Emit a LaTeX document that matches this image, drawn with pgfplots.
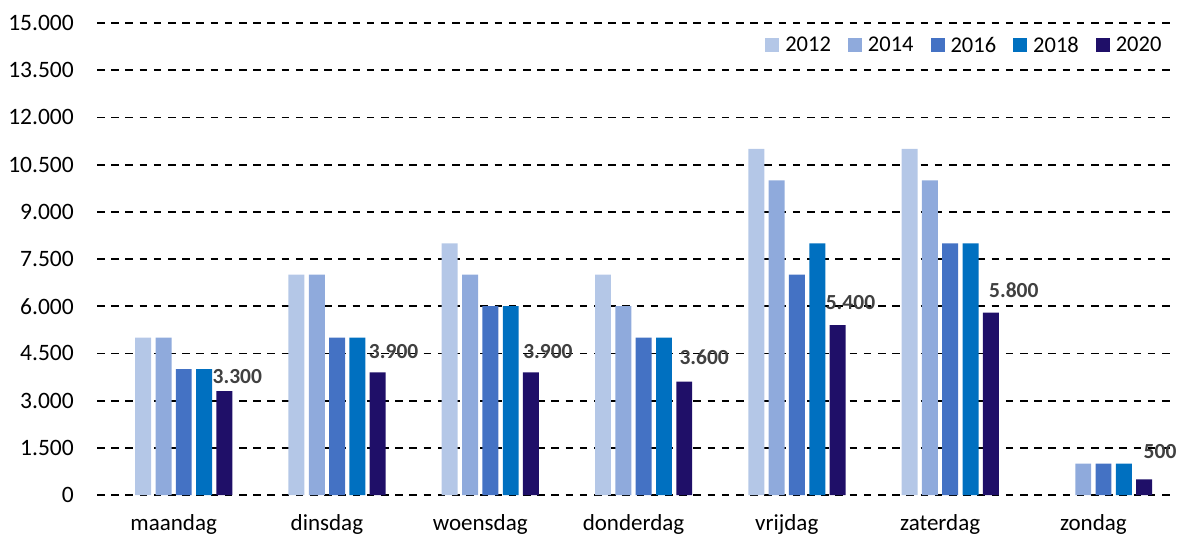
\documentclass[border=0pt]{standalone}
\usepackage{pgfplots}
\pgfplotsset{compat=1.18}
\usepackage{pgfplotstable}
\usepackage{fontspec}
\setmainfont{Carlito}
\definecolor{c2012}{HTML}{B4C7E7}
\definecolor{c2014}{HTML}{8FAADC}
\definecolor{c2016}{HTML}{4472C4}
\definecolor{c2018}{HTML}{0070C0}
\definecolor{c2020}{HTML}{1F0F68}
\definecolor{lab}{HTML}{404040}
\definecolor{axgrey}{HTML}{D9D9D9}

\pgfplotstableread{
x y
0 5000
1 7000
2 8000
3 7000
4 11000
5 11000
}\tA
\pgfplotstableread{
x y
0 5000
1 7000
2 7000
3 6000
4 10000
5 10000
6 1000
}\tB
\pgfplotstableread{
x y
0 4000
1 5000
2 6000
3 5000
4 7000
5 8000
6 1000
}\tC
\pgfplotstableread{
x y
0 4000
1 5000
2 6000
3 5000
4 8000
5 8000
6 1000
}\tD
\pgfplotstableread{
x y dx dy
0 3300 13 15
1 3900 16 21
2 3900 17 21
3 3600 20 24
4 5400 13 23
5 5800 23 22
6 500 16 28
}\tE

\begin{document}
\begin{tikzpicture}
\begin{axis}[
  name=ax,
  scale only axis,
  width=1073pt, height=472pt,
  xmin=-0.5, xmax=6.5,
  ymin=0, ymax=15000,
  axis line style={draw=none},
  major tick length=0pt,
  xtick={0,1,2,3,4,5,6},
  xticklabels={maandag,dinsdag,woensdag,donderdag,vrijdag,zaterdag,zondag},
  xticklabel style={anchor=base, yshift=-35pt, font=\fontsize{23}{27}\selectfont},
  ytick={1500,3000,4500,6000,7500,9000,10500,12000,13500,15000},
  extra y ticks={0},
  extra y tick style={grid style={solid, draw=axgrey, line width=2pt}},
  ymajorgrids,
  major grid style={black, line width=1.8pt, dash pattern=on 7.5pt off 6.7pt},
  yticklabel style={anchor=east, inner sep=0pt, xshift=-23pt, font=\fontsize{23.5}{27}\selectfont},
  scaled y ticks=false,
  /pgf/number format/.cd, 1000 sep={.}, fixed, assume math mode=true, /pgfplots/.cd,
  legend columns=-1,
  legend style={draw=none, fill=none, at={(0.995,0.953)}, anchor=east,
    font=\fontsize{22.5}{26}\selectfont,
    nodes={inner sep=0pt},
    /tikz/every even column/.append style={column sep=17pt},
    /tikz/every odd column/.append style={column sep=6pt}},
  legend image code/.code={\fill[#1] (0pt,-7pt) rectangle (14pt,7pt);},
]
\addplot[ybar, bar width=0.104, bar shift=-0.199, fill=c2012, draw=none] table[x=x,y=y] {\tA};
\addplot[ybar, bar width=0.104, bar shift=-0.066, fill=c2014, draw=none] table[x=x,y=y] {\tB};
\addplot[ybar, bar width=0.104, bar shift=0.066, fill=c2016, draw=none] table[x=x,y=y] {\tC};
\addplot[ybar, bar width=0.104, bar shift=0.199, fill=c2018, draw=none] table[x=x,y=y] {\tD};
\addplot[ybar, bar width=0.104, bar shift=0.331, fill=c2020, draw=none,
  visualization depends on={\thisrow{dx} \as \mydx},
  visualization depends on={\thisrow{dy} \as \mydy},
  nodes near coords,
  point meta=y,
  every node near coord/.append style={anchor=center, inner sep=0pt,
    xshift=\mydx pt + 50.7pt, yshift=\mydy pt, text=lab,
    font=\fontsize{21.5}{25}\selectfont\bfseries}
  ] table[x=x,y=y] {\tE};
\legend{2012,2014,2016,2018,2020}
\end{axis}
\pgfresetboundingbox
\path[use as bounding box] ([shift={(-97pt,-42pt)}]ax.south west) rectangle ([shift={(14pt,23pt)}]ax.north east);
\end{tikzpicture}
\end{document}
